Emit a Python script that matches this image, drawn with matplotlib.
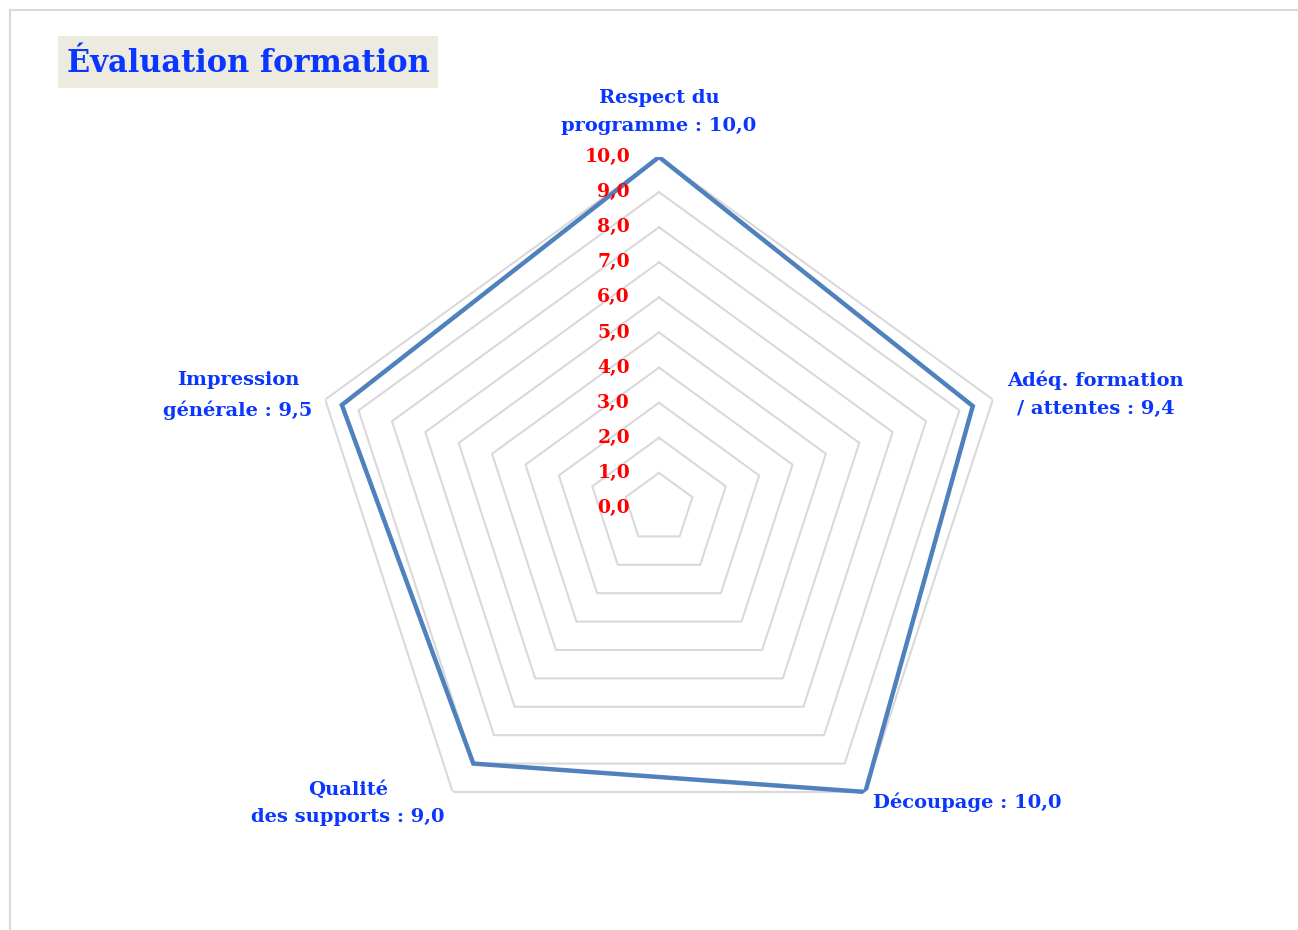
"""
Radar chart: évaluation d'une formation (5 critères, note sur 10).
"""

import numpy as np
import matplotlib.pyplot as plt
from matplotlib.lines import Line2D
from matplotlib.patches import Rectangle

### DATA ###
criteres = ['Respect du\nprogramme', 'Adéq. formation\n/ attentes', 'Découpage',
            'Qualité\ndes supports', 'Impression\ngénérale']
notes = [10.0, 9.4, 10.0, 9.0, 9.5]
graduations = [0, 1, 2, 3, 4, 5, 6, 7, 8, 9, 10]

### STYLE ###
FONT = 'DejaVu Serif'
BLEU_TXT = '#0A36FF'
BLEU_LIGNE = '#4F81BD'
GRIS = '#D9D9D9'
W, H = 1298, 930

fig = plt.figure(figsize=(W / 100, H / 100), dpi=100)

# cadre gris (haut + gauche)
fig.add_artist(Line2D([10 / W, 10 / W], [0, 1 - 10 / H], color=GRIS, lw=1.5))
fig.add_artist(Line2D([10 / W, 1297 / W], [1 - 10 / H, 1 - 10 / H], color=GRIS, lw=1.5))

# titre sur fond beige
fig.add_artist(Rectangle((58 / W, 1 - 88 / H), 380 / W, 52 / H,
                         facecolor='#EDEAE0', edgecolor='none'))
fig.text(248 / W, 1 - 63 / H, 'Évaluation formation', ha='center', va='center',
         fontsize=22, fontweight='bold', color=BLEU_TXT, family=FONT)

### RADAR ###
cx, cy, R = 659, 508, 351
ax = fig.add_axes([(cx - R) / W, (H - cy - R) / H, 2 * R / W, 2 * R / H], polar=True)
ax.set_theta_offset(np.pi / 2)
ax.set_theta_direction(-1)
ax.set_ylim(0, 10)
ax.grid(False)
ax.spines['polar'].set_visible(False)
ax.set_xticks([])
ax.set_yticks([])
ax.patch.set_alpha(0)

n = len(criteres)
angles = np.linspace(0, 2 * np.pi, n, endpoint=False)
ang_ferme = np.append(angles, angles[0])

# anneaux pentagonaux
for g in graduations[1:]:
    ax.plot(ang_ferme, [g] * (n + 1), color=GRIS, lw=1.5, zorder=1)

# série
ax.plot(ang_ferme, notes + notes[:1], color=BLEU_LIGNE, lw=3.2, zorder=3,
        solid_joinstyle='miter')

# étiquettes de l'axe radial
for g in graduations:
    ax.annotate(f'{g:.1f}'.replace('.', ','), xy=(0, g), xytext=(-29, 0),
                textcoords='offset pixels', ha='right', va='center',
                fontsize=13.5, fontweight='bold', color='red', family=FONT, zorder=4)

# étiquettes des catégories
decalages = [(0, 45), (103, 5), (102, -10), (-105, -11), (-87, 4)]
for a, nom, v, (dx, dy) in zip(angles, criteres, notes, decalages):
    txt = nom + ' : ' + f'{v:.1f}'.replace('.', ',')
    ax.annotate(txt, xy=(a, 10), xytext=(dx, dy), textcoords='offset pixels',
                ha='center', va='center', multialignment='center',
                fontsize=14, fontweight='bold', color=BLEU_TXT, family=FONT,
                linespacing=1.7, annotation_clip=False)

fig.savefig('out.png', dpi=100)
